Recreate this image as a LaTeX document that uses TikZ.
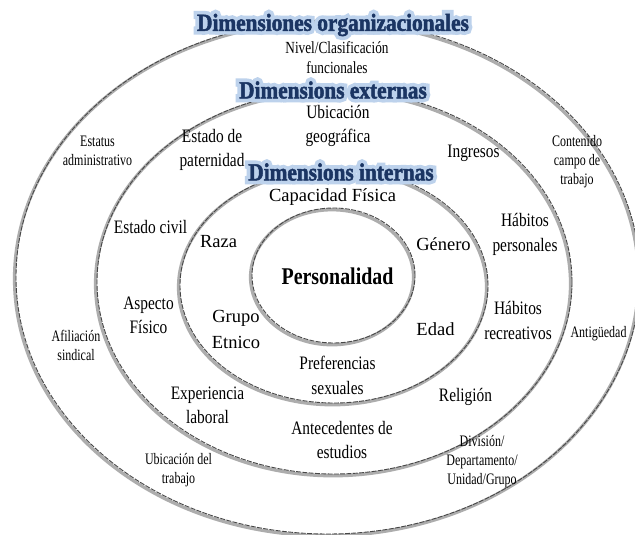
\documentclass[tikz,border=0pt]{standalone}
\usepackage{fontspec}
\setmainfont{Liberation Serif}
\newfontfamily\fA{Liberation Serif}
\newfontfamily\fB[FakeStretch=0.81]{Liberation Serif}
\newfontfamily\fN[FakeStretch=0.78]{Liberation Serif}
\newfontfamily\fC[FakeStretch=0.75]{Liberation Serif}
\newfontfamily\fP[FakeStretch=0.83]{Liberation Serif}
\newfontfamily\fT[FakeStretch=0.87,FakeBold=2]{Liberation Serif}
\newfontfamily\fTg[FakeStretch=0.87,FakeBold=32]{Liberation Serif}
\definecolor{ttlblue}{HTML}{1B3563}
\definecolor{glowblue}{HTML}{BDD2EC}
\begin{document}
\begin{tikzpicture}[x=1pt,y=-1pt,
  every node/.style={inner sep=0pt, align=center},
  ringshadow/.style={draw=black!32, line width=3.2pt},
  ringline/.style={draw=black!72, line width=0.9pt, dash pattern=on 5pt off 1.3pt},
  la/.style={font=\fA\fontsize{18.5}{25.5}\selectfont},
  lb/.style={font=\fB\fontsize{19}{24.5}\selectfont},
  lc/.style={font=\fC\fontsize{16}{19}\selectfont},
  ln/.style={font=\fN\fontsize{17}{20}\selectfont},
  lp/.style={font=\fP\bfseries\fontsize{24}{28}\selectfont},
  ttl/.style={font=\fT\bfseries\fontsize{24.5}{28}\selectfont, text=ttlblue},
  ttlglow/.style={font=\fTg\bfseries\fontsize{24.5}{28}\selectfont, text=glowblue},
]
\useasboundingbox (0,0) rectangle (635,535);
\fill[white] (0,0) rectangle (635,535);
\clip (0,0) rectangle (635,535);

% ring centres
\coordinate (c1) at (328,277);
\coordinate (c2) at (334.5,282);
\coordinate (c3) at (334,285.5);
\coordinate (c4) at (333.5,275.5);

% shadows
\draw[ringshadow] ([shift={(-1.5,1.8)}]c1) ellipse [x radius=312pt, y radius=257pt];
\draw[ringshadow] ([shift={(-1.5,1.8)}]c2) ellipse [x radius=237.5pt, y radius=192pt];
\draw[ringshadow] ([shift={(-1.5,1.8)}]c3) ellipse [x radius=154pt, y radius=117.5pt];
\draw[ringshadow] ([shift={(-1.5,1.8)}]c4) ellipse [x radius=81.5pt, y radius=67.5pt];
% lines
\draw[ringline] (c1) ellipse [x radius=312pt, y radius=257pt];
\draw[ringline] (c2) ellipse [x radius=237.5pt, y radius=192pt];
\draw[ringline] (c3) ellipse [x radius=154pt, y radius=117.5pt];
\draw[ringline] (c4) ellipse [x radius=81.5pt, y radius=67.5pt];

% labels
\node[ln] (nivel) at (337,58) {Nivel/Clasificación\\funcionales};
\node[lb] (ubic) at (338,126) {Ubicación\\geográfica};
\node[lc] (estatus) at (97.5,151) {Estatus\\administrativo};
\node[lb] (patern) at (212,150) {Estado de\\paternidad};
\node[lb] (ingresos) at (473.5,153) {Ingresos};
\node[lc] (contenido) at (577,162) {Contenido\\campo de\\trabajo};
\node[la] (capacidad) at (332.5,197) {Capacidad Física};
\node[lb] (civil) at (150.5,227) {Estado civil};
\node[la] (raza) at (218.5,242) {Raza};
\node[la] (genero) at (443.5,244) {Género};
\node[lb] (habper) at (525,234.5) {Hábitos\\personales};
\node[lp] (perso) at (337.5,276) {Personalidad};
\node[lb] (aspecto) at (148.5,315.5) {Aspecto\\Físico};
\node[la] (grupo) at (236,329.5) {Grupo\\Etnico};
\node[lc] (afil) at (76,345.5) {Afiliación\\sindical};
\node[la] (edad) at (435.5,329) {Edad};
\node[lb] (habrec) at (518,320.5) {Hábitos\\recreativos};
\node[lc] (antig) at (598.5,334) {Antigüedad};
\node[lb] (pref) at (337.5,375.5) {Preferencias\\sexuales};
\node[lb] (exper) at (207.5,405.5) {Experiencia\\laboral};
\node[lb] (relig) at (465.5,397) {Religión};
\node[lb] (antec) at (342,440) {Antecedentes de\\estudios};
\node[lc] (ubtrab) at (178.5,470.5) {Ubicación del\\trabajo};
\node[lc] (divis) at (482,461.5) {División/\\Departamento/\\Unidad/Grupo};

% titles
\node[ttlglow] (g1) at (333,25) {Dimensiones organizacionales};
\node[ttl] (t1) at (333,25) {Dimensiones organizacionales};
\node[ttlglow] (g2) at (333,90) {Dimensions externas};
\node[ttl] (t2) at (333,90) {Dimensions externas};
\node[ttlglow] (g3) at (341,172) {Dimensions internas};
\node[ttl] (t3) at (341,172) {Dimensions internas};
\end{tikzpicture}
\end{document}
